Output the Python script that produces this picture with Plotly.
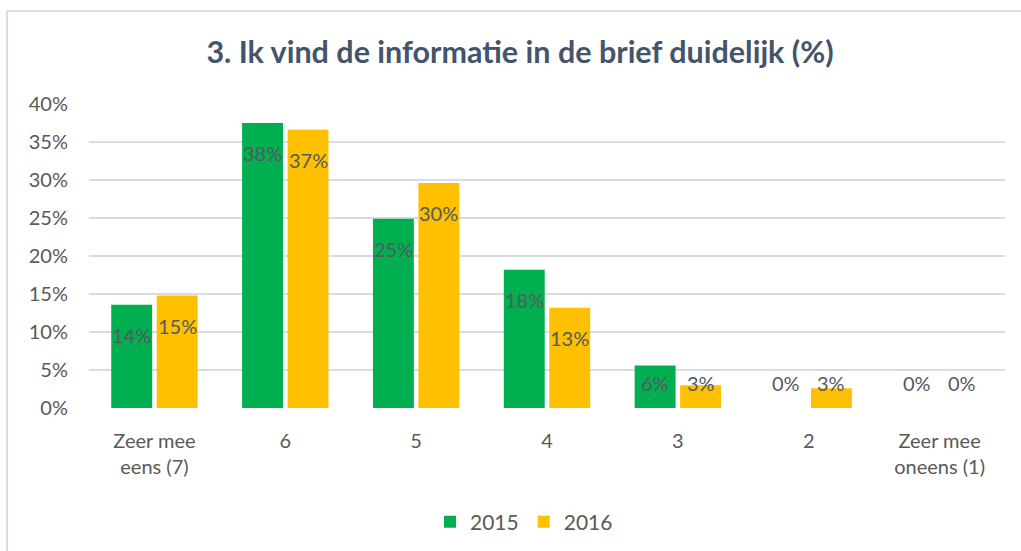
import plotly.graph_objects as go

categories = ["Zeer mee<br>eens (7)", "6", "5", "4", "3", "2", "Zeer mee<br>oneens (1)"]
values_2015 = [13.6, 37.5, 24.9, 18.2, 5.6, 0, 0]
values_2016 = [14.8, 36.6, 29.6, 13.2, 3.0, 2.6, 0]
series_names = ["2015", "2016"]
series_colors = ["#00B050", "#FFC000"]
y_ticks = [0, 5, 10, 15, 20, 25, 30, 35, 40]

FONT = "Lato"
TEXT_COL = "#595959"

W, H = 1021, 551
ML, MR, MT, MB = 89, 16, 104, 143
plot_h = H - MT - MB
plot_w = W - ML - MR
px_per_unit = plot_h / 40.0

fig = go.Figure()
for name, vals, col in zip(series_names, [values_2015, values_2016], series_colors):
    fig.add_trace(go.Bar(
        name=name, x=list(range(len(categories))), y=vals,
        marker=dict(color=col, line=dict(width=0)),
        hoverinfo="y",
    ))

annotations = []
n_series = 2
slot = (1 - 0.305) / n_series
for si, vals in enumerate([values_2015, values_2016]):
    offset = (si - (n_series - 1) / 2) * slot
    for ci, v in enumerate(vals):
        ypos = max(v - 30 / px_per_unit, 25 / px_per_unit)
        annotations.append(dict(
            x=ci + offset, y=ypos, xref="x", yref="y",
            text=f"{v:.0f}%", showarrow=False,
            font=dict(family=FONT, size=20, color="#525A64"),
            xanchor="center", yanchor="middle",
        ))

fig.update_layout(
    width=W, height=H,
    margin=dict(l=ML, r=MR, t=MT, b=MB, autoexpand=False),
    paper_bgcolor="white", plot_bgcolor="white",
    barmode="group", bargap=0.305, bargroupgap=0.1,
    title=dict(text="<b>3. Ik vind de informatie in de brief duidelijk (%)</b>",
               x=520 / W, xanchor="center", y=1 - 52 / H, yanchor="middle",
               font=dict(family=FONT, size=30.5, color="#44546A")),
    font=dict(family=FONT, size=20, color=TEXT_COL),
    showlegend=True,
    legend=dict(orientation="h", x=(524 - ML) / plot_w, xanchor="center",
                y=(H - MB - 522) / plot_h, yanchor="middle",
                font=dict(family=FONT, size=21, color=TEXT_COL),
                itemwidth=30, traceorder="normal"),
    annotations=annotations,
    xaxis=dict(
        tickmode="array", tickvals=list(range(len(categories))), ticktext=categories,
        range=[-0.5, len(categories) - 0.5],
        showgrid=False, zeroline=False, showline=False, ticks="",
        tickfont=dict(family=FONT, size=20, color=TEXT_COL),
        ticklabelstandoff=19,
    ),
    yaxis=dict(
        range=[0, 40], tickvals=y_ticks, ticktext=[f"{t}%" for t in y_ticks],
        showgrid=True, gridcolor="#D9DDE3", gridwidth=2,
        zeroline=False, showline=False, ticks="",
        tickfont=dict(family=FONT, size=20, color=TEXT_COL),
        ticklabelstandoff=20,
    ),
    shapes=[
        dict(type="line", xref="paper", yref="paper",
             x0=(7 - ML) / plot_w, x1=(W + 10 - ML) / plot_w,
             y0=(H - MB - 11) / plot_h, y1=(H - MB - 11) / plot_h,
             line=dict(color="#D9DEE6", width=2)),
        dict(type="line", xref="paper", yref="paper",
             x0=(7 - ML) / plot_w, x1=(7 - ML) / plot_w,
             y0=(H - MB - 11) / plot_h, y1=(H - MB - H - 10) / plot_h,
             line=dict(color="#D9DEE6", width=2)),
    ],
)

fig.write_html("out.html", config={"displayModeBar": False},
               post_script="document.body.style.margin='0';")
